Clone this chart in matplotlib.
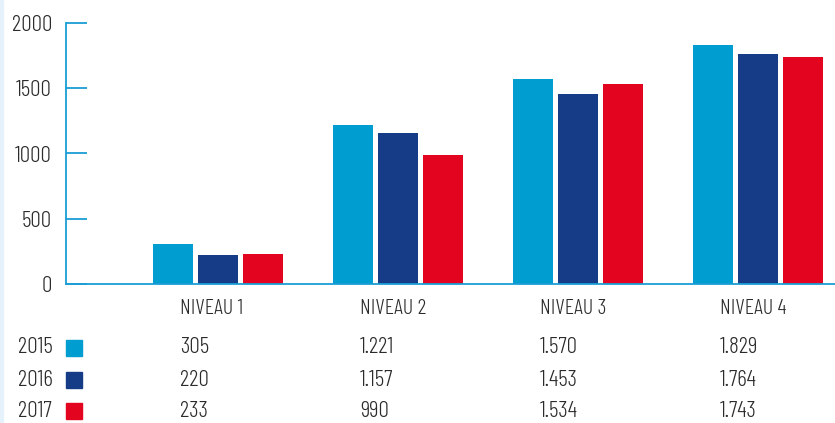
import matplotlib.pyplot as plt
from matplotlib.patches import Rectangle
from matplotlib.transforms import blended_transform_factory
import numpy as np

# Données
niveaux = ["NIVEAU 1", "NIVEAU 2", "NIVEAU 3", "NIVEAU 4"]
annees = ["2015", "2016", "2017"]
v2015 = [305, 1221, 1570, 1829]
v2016 = [220, 1157, 1453, 1764]
v2017 = [233, 990, 1534, 1743]
couleurs = ["#009dd0", "#163c88", "#e3051f"]

plt.rcParams['font.family'] = ['Barlow Condensed', 'Roboto Condensed', 'DejaVu Sans']
plt.rcParams['font.weight'] = 300
texte = "#2b2b2b"
bleu_axe = "#1a9ed4"

fig = plt.figure(figsize=(8.35, 4.23), dpi=100)
ax = fig.add_axes([66 / 835, 139 / 423, 769 / 835, 261 / 423])

x = np.arange(len(niveaux))
largeur = 0.223
pas = 0.25
for k, vals in enumerate([v2015, v2016, v2017]):
    ax.bar(x + (k - 1) * pas, vals, width=largeur, color=couleurs[k], zorder=2)

ax.set_xlim(-0.846, 3.43)
ax.set_ylim(0, 2000)
ax.set_yticks([0, 500, 1000, 1500, 2000])
ax.set_xticks([])
for s in ["top", "right"]:
    ax.spines[s].set_visible(False)
for s in ["left", "bottom"]:
    ax.spines[s].set_color(bleu_axe)
    ax.spines[s].set_linewidth(1.3)
ax.tick_params(axis="y", direction="in", length=15, width=1.3, color=bleu_axe,
               labelsize=16.8, labelcolor=texte, pad=10)

# Tableau sous le graphique
tr = blended_transform_factory(ax.transData, ax.transAxes)
for i, nom in enumerate(niveaux):
    ax.text(i - 0.21, -0.092, nom, transform=tr, ha="left", va="center",
            fontsize=15.8, color=texte)

lignes_y = [-0.245, -0.368, -0.487]
for k, vals in enumerate([v2015, v2016, v2017]):
    y = lignes_y[k]
    ax.text(-0.0624, y, annees[k], transform=ax.transAxes, ha="left", va="center",
            fontsize=16.8, color=texte)
    ax.add_patch(Rectangle((0.0, y - 0.031), 0.0208, 0.062, transform=ax.transAxes,
                           color=couleurs[k], clip_on=False))
    for i, v in enumerate(vals):
        ax.text(i - 0.21, y, f"{v:,}".replace(",", "."), transform=tr, ha="left",
                va="center", fontsize=16.8, color=texte)

# bande claire sur le bord gauche
fig.patches.append(Rectangle((0, 0), 3 / 835, 1, transform=fig.transFigure,
                             color="#e6f2fb", zorder=0))

fig.savefig("out.png", dpi=100)
